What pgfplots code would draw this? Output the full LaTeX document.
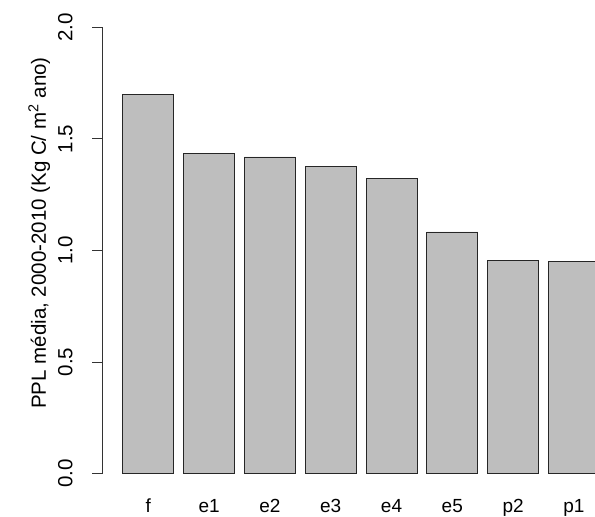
\documentclass[border=0pt]{standalone}
\usepackage{fontspec}
\setmainfont{Liberation Sans}
\usepackage{pgfplots}
\pgfplotsset{compat=1.18}
\begin{document}
\fontsize{19}{22}\selectfont
\begin{tikzpicture}
\useasboundingbox (0,0) rectangle (595pt,517pt);
\begin{axis}[
  at={(102.3pt,43.3pt)}, anchor=south west,
  scale only axis,
  width=492.7pt, height=446.4pt,
  xmin=-0.757, xmax=7.347,
  ymin=0, ymax=2,
  axis x line*=bottom,
  axis y line*=left,
  x axis line style={draw=none},
  y axis line style={line width=0.8pt, black!80, -},
  xtick=data,
  xticklabels={f,e1,e2,e3,e4,e5,p2,p1},
  major x tick style={draw=none},
  xticklabel style={anchor=base, yshift=-29pt, font=\fontsize{19}{22}\selectfont},
  ytick={0,0.5,1,1.5,2},
  tick align=outside,
  major tick length=10pt,
  major y tick style={line width=0.8pt, black!80},
  yticklabel style={xshift=-20pt, rotate=90, anchor=base, font=\fontsize{20.5}{22}\selectfont, /pgf/number format/fixed, /pgf/number format/fixed zerofill, /pgf/number format/precision=1},
  /pgf/number format/assume math mode=true,
  ylabel={PPL média, 2000-2010 (Kg C/ m\textsuperscript{2} ano)},
  every axis y label/.style={at={(axis description cs:-0.128,0.539)}, rotate=90, anchor=center, font=\fontsize{20.5}{24}\selectfont},
  ybar, bar width=51pt, bar shift=0pt,
]
\addplot[fill={rgb,255:red,190;green,190;blue,190}, draw=black!85, line width=0.8pt] coordinates {
(0,1.701) (1,1.435) (2,1.419) (3,1.375) (4,1.323) (5,1.083) (6,0.956) (7,0.950)
};
\end{axis}
\end{tikzpicture}
\end{document}
